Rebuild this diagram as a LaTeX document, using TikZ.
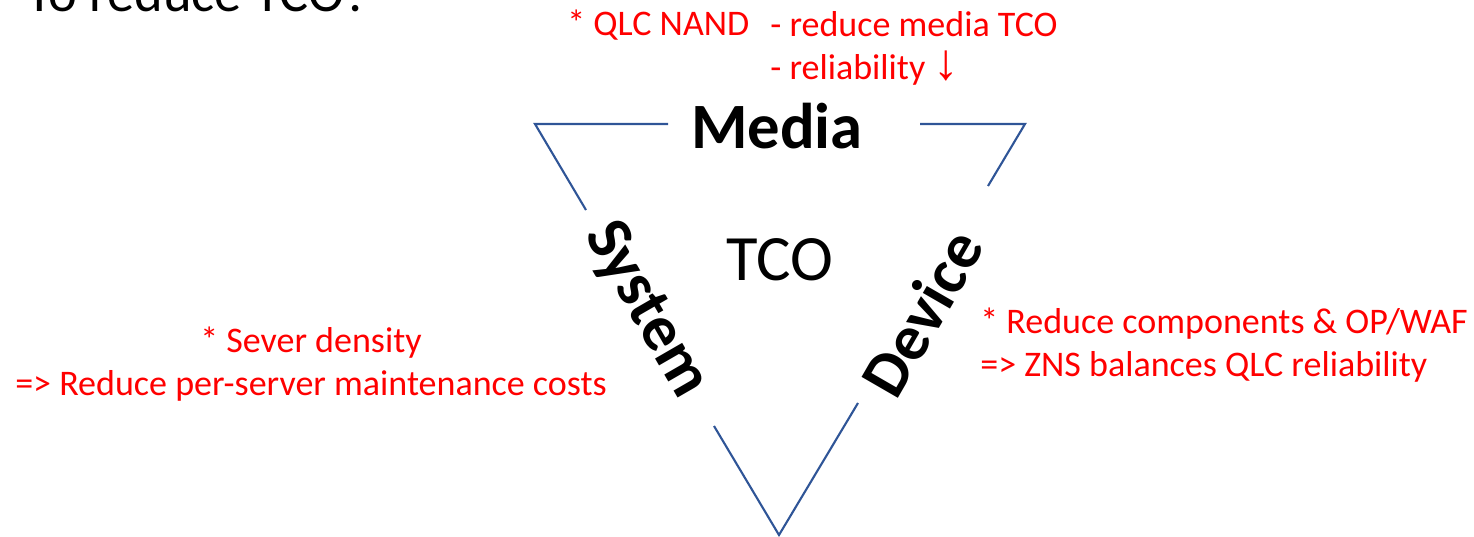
\documentclass[tikz,border=0pt]{standalone}
\usepackage{fontspec}
\setmainfont{Carlito}
\newfontfamily\pfeilfont{Liberation Sans}
\definecolor{kantenfarbe}{HTML}{2F5597}
\tikzset{
  rottext/.style={red, inner sep=0pt, font=\fontsize{20.5}{24.4}\selectfont},
  ecke/.style={inner sep=0pt, font=\bfseries\fontsize{36.8}{44}\selectfont},
  kante/.style={draw=kantenfarbe, line width=1.2pt}
}
\begin{document}
\begin{tikzpicture}[x=0.02cm, y=-0.02cm]
		\clip (0,0) rectangle (1474,537);
		% Titel (oben abgeschnitten)
		\node[anchor=base west, inner sep=0pt, font=\fontsize{31}{36}\selectfont] (titel) at (26,12) {To reduce TCO?};
		% Dreieck
		\coordinate (ol) at (535,124);
		\coordinate (or) at (1025,124);
		\coordinate (u) at (779,535);
		\coordinate (m1) at (668,124);
		\coordinate (m2) at (920,124);
		\coordinate (l1) at (586,210);
		\coordinate (l2) at (714,426);
		\coordinate (r1) at (988,186);
		\coordinate (r2) at (858,403);
		\draw[kante] (m1) -- (ol) -- (l1);
		\draw[kante] (m2) -- (or) -- (r1);
		\draw[kante] (l2) -- (u) -- (r2);
		% Beschriftung
		\node[ecke] (medien) at (777,126) {Media};
		\node[ecke, rotate=-60] (system) at (646,310) {System};
		\node[ecke, rotate=60] (geraet) at (922,313) {Device};
		\node[inner sep=0pt, font=\fontsize{36.8}{44}\selectfont] (tco) at (780,260) {TCO};
		% Anmerkungen
		\node[rottext, anchor=base west] (qlc) at (567,36) {* QLC NAND};
		\node[rottext, anchor=north west, align=left] (nand) at (770,11) {- reduce media TCO\\- reliability {\pfeilfont\fontsize{29}{24.4}\selectfont ↓}};
		\node[rottext, align=center] (dichte) at (311,364) {* Sever density\\=> Reduce per-server maintenance costs};
		\node[rottext, anchor=west, align=left] (zns) at (980,345) {* Reduce components \& OP/WAF\\=> ZNS balances QLC reliability};
	\end{tikzpicture}
\end{document}
